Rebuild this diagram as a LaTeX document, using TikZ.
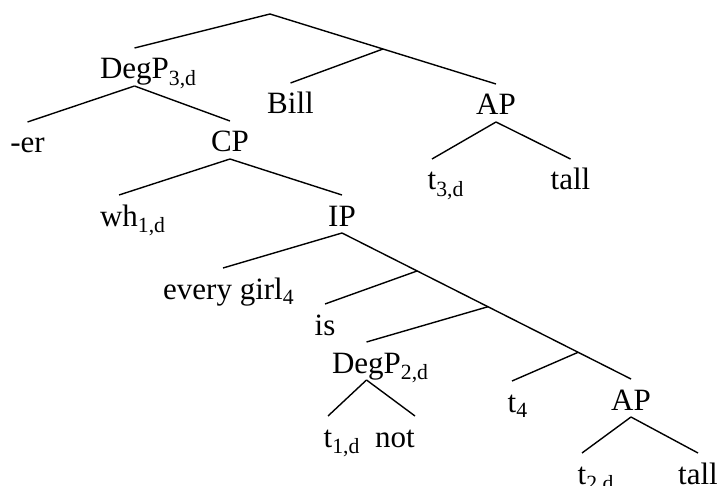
\documentclass[tikz,border=0pt]{standalone}
\usepackage{fontspec}
\setmainfont{Liberation Serif}
\usetikzlibrary{calc}

\begin{document}
\begin{tikzpicture}[x=1pt,y=-1pt,
	word/.style={inner sep=0pt,anchor=base,text height=24pt,text depth=0pt,
		outer ysep=7pt,font=\fontsize{31}{37}\selectfont},
	branch/.style={line width=1.4pt}]
	\useasboundingbox (0,0) rectangle (719,486);

	% labels
	\node[word] (degp3) at (134.5,79) {DegP\rlap{\textsubscript{3,d}}};
	\node[word] (er) at (27.5,153) {-er};
	\node[word] (cp) at (230,152) {CP};
	\node[word] (wh) at (119,226) {wh\rlap{\textsubscript{1,d}}};
	\node[word] (bill) at (290.5,114) {Bill};
	\node[word] (ap3) at (496,115) {AP};
	\node[word] (t3) at (432,190) {t\rlap{\textsubscript{3,d}}};
	\node[word] (tall3) at (570.5,190) {tall};
	\node[word] (ip) at (342,226) {IP};
	\node[word] (girl) at (223,299) {every girl\rlap{\textsubscript{4}}};
	\node[word] (is) at (325,335) {is};
	\node[word] (degp2) at (366.5,373) {DegP\rlap{\textsubscript{2,d}}};
	\node[word] (t1) at (328,447) {t\rlap{\textsubscript{1,d}}};
	\node[word] (not) at (395,447) {not};
	\node[word] (t4) at (512,412) {t\rlap{\textsubscript{4}}};
	\node[word] (ap2) at (631,410) {AP};
	\node[word] (t2) at (582,484) {t\rlap{\textsubscript{2,d}}};
	\node[word] (tall2) at (698,484) {tall};

	% unlabelled branch points
	\coordinate (root) at (270,14);
	\coordinate (vbar) at ($(root)!0.5!(ap3.north)$);
	\coordinate (vis) at ($(ip.south)!0.26!(ap2.north)$);
	\coordinate (vdeg) at ($(ip.south)!0.505!(ap2.north)$);
	\coordinate (vt) at ($(ip.south)!0.817!(ap2.north)$);

	\draw[branch] (root) -- (degp3.north);
	\draw[branch] (root) -- (ap3.north);
	\draw[branch] (vbar) -- (bill.north);
	\draw[branch] (degp3.south) -- (er.north);
	\draw[branch] (degp3.south) -- (cp.north);
	\draw[branch] (cp.south) -- (wh.north);
	\draw[branch] (cp.south) -- (ip.north);
	\draw[branch] (ap3.south) -- (t3.north);
	\draw[branch] (ap3.south) -- (tall3.north);
	\draw[branch] (ip.south) -- (girl.north);
	\draw[branch] (ip.south) -- (ap2.north);
	\draw[branch] (vis) -- (is.north);
	\draw[branch] (vdeg) -- (degp2.north);
	\draw[branch] (degp2.south) -- (t1.north);
	\draw[branch] (degp2.south) -- ([xshift=20pt]not.north);
	\draw[branch] (vt) -- (t4.north);
	\draw[branch] (ap2.south) -- (t2.north);
	\draw[branch] (ap2.south) -- (tall2.north);
\end{tikzpicture}
\end{document}
